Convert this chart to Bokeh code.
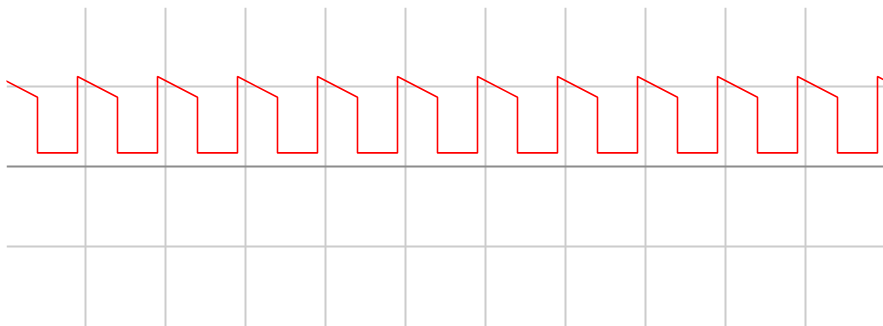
from bokeh.plotting import figure
from bokeh.models import Range1d, FixedTicker, Span
from bokeh.embed import file_html
from bokeh.resources import INLINE

# Waveform vertices (time in grid units, amplitude in grid units)
t_vals = [-0.1, 0.4, 0.4,
          0.9, 0.9, 1.4, 1.4,
          1.9, 1.9, 2.4, 2.4,
          2.9, 2.9, 3.4, 3.4,
          3.9, 3.9, 4.4, 4.4,
          4.9, 4.9, 5.4, 5.4,
          5.9, 5.9, 6.4, 6.4,
          6.9, 6.9, 7.4, 7.4,
          7.9, 7.9, 8.4, 8.4,
          8.9, 8.9, 9.4, 9.4,
          9.9, 9.9, 10.4, 10.4,
          10.9, 10.9, 11.4, 11.4]
v_vals = [1.125, 0.865, 0.17,
          0.17, 1.125, 0.865, 0.17,
          0.17, 1.125, 0.865, 0.17,
          0.17, 1.125, 0.865, 0.17,
          0.17, 1.125, 0.865, 0.17,
          0.17, 1.125, 0.865, 0.17,
          0.17, 1.125, 0.865, 0.17,
          0.17, 1.125, 0.865, 0.17,
          0.17, 1.125, 0.865, 0.17,
          0.17, 1.125, 0.865, 0.17,
          0.17, 1.125, 0.865, 0.17,
          0.17, 1.125, 0.865, 0.17]

x_grid_ticks = [1, 2, 3, 4, 5, 6, 7, 8, 9, 10]
y_grid_ticks = [-2, -1, 1]

p = figure(width=883, height=326, output_backend="svg", toolbar_location=None,
           x_range=Range1d(0.0125, 10.975), y_range=Range1d(-2.0, 1.9875),
           min_border_left=6, min_border_top=7, min_border_right=0, min_border_bottom=0)
p.xaxis.visible = False
p.yaxis.visible = False
p.outline_line_color = None
p.background_fill_color = "white"
p.border_fill_color = "white"

p.xgrid.ticker = FixedTicker(ticks=x_grid_ticks)
p.ygrid.ticker = FixedTicker(ticks=y_grid_ticks)
for g in (p.xgrid, p.ygrid):
    g.grid_line_color = "#cccccc"
    g.grid_line_width = 2
    g.grid_line_alpha = 1.0

p.add_layout(Span(location=0, dimension="width", line_color="#8c8c8c", line_width=2))

p.line(t_vals, v_vals, line_color="#ff0000", line_width=1.6)

open("out.html", "w").write(file_html(p, INLINE))
